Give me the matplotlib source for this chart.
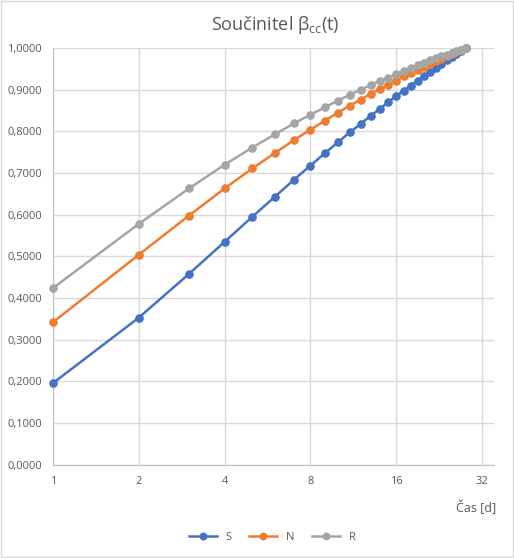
import matplotlib
matplotlib.use("Agg")
import matplotlib.pyplot as plt
from matplotlib.ticker import FixedLocator, FuncFormatter, NullLocator

days = list(range(1, 29))
S = [0.196, 0.353, 0.458, 0.535, 0.595, 0.643, 0.684, 0.718, 0.748, 0.774,
     0.798, 0.818, 0.837, 0.854, 0.870, 0.885, 0.898, 0.910, 0.922, 0.933,
     0.943, 0.952, 0.961, 0.970, 0.978, 0.986, 0.993, 1.000]
N = [0.342, 0.504, 0.598, 0.663, 0.711, 0.748, 0.779, 0.804, 0.826, 0.845,
     0.862, 0.876, 0.890, 0.902, 0.912, 0.922, 0.932, 0.940, 0.948, 0.955,
     0.962, 0.968, 0.974, 0.980, 0.986, 0.991, 0.995, 1.000]
R = [0.424, 0.578, 0.663, 0.720, 0.761, 0.793, 0.819, 0.840, 0.858, 0.874,
     0.888, 0.900, 0.911, 0.921, 0.929, 0.937, 0.945, 0.952, 0.958, 0.964,
     0.970, 0.975, 0.980, 0.984, 0.988, 0.992, 0.996, 1.000]
series_names = ["S", "N", "R"]
x_ticks = [1, 2, 4, 8, 16, 32]
y_ticks = [0.0, 0.1, 0.2, 0.3, 0.4, 0.5, 0.6, 0.7, 0.8, 0.9, 1.0]

colors = ["#4472C4", "#ED7D31", "#A5A5A5"]
txt = "#595959"

plt.rcParams['font.family'] = ['Open Sans', 'DejaVu Sans']
plt.rcParams['mathtext.fontset'] = 'custom'
plt.rcParams['mathtext.rm'] = 'Open Sans'
plt.rcParams['mathtext.it'] = 'Open Sans'

fig = plt.figure(figsize=(5.14, 5.58), dpi=100)
fig.patches.append(plt.Rectangle((0.001, 0.001), 0.997, 0.997, transform=fig.transFigure,
                                 fill=False, edgecolor="#D9D9D9", linewidth=1))
ax = fig.add_axes([0.103, 0.167, 0.858, 0.747])

for vals, name, c in zip([S, N, R], series_names, colors):
    ax.plot(days, vals, color=c, linewidth=1.8, marker='o', markersize=5.2, label=name,
            clip_on=False, zorder=3)

ax.set_xscale('log', base=2)
ax.set_xlim(1, 35.2)
ax.set_ylim(0, 1.0)
ax.xaxis.set_major_locator(FixedLocator(x_ticks))
ax.xaxis.set_minor_locator(NullLocator())
ax.xaxis.set_major_formatter(FuncFormatter(lambda v, p: f"{int(v)}"))
ax.yaxis.set_major_locator(FixedLocator(y_ticks))
ax.yaxis.set_major_formatter(FuncFormatter(lambda v, p: f"{v:.4f}".replace('.', ',')))

ax.grid(True, color="#D9D9D9", linewidth=1)
ax.set_axisbelow(True)
for s in ['top', 'right']:
    ax.spines[s].set_visible(False)
for s in ['left', 'bottom']:
    ax.spines[s].set_color("#BFBFBF")
ax.tick_params(length=0, colors=txt, labelsize=8, pad=8)
for lab in ax.get_xticklabels() + ax.get_yticklabels():
    lab.set_color(txt)

fig.text(0.535, 0.955, r"Součinitel $\beta_{cc}$(t)", ha='center', va='center',
         fontsize=13, color=txt)
fig.text(0.965, 0.09, "Čas [d]", ha='right', va='center', fontsize=9, color=txt)

leg = ax.legend(loc='center', bbox_to_anchor=(0.53, 0.037), bbox_transform=fig.transFigure,
                ncol=3, frameon=False, fontsize=8, handlelength=2.5, columnspacing=1.6,
                markerscale=0.9)
for t in leg.get_texts():
    t.set_color(txt)

fig.savefig("out.png", dpi=100)
